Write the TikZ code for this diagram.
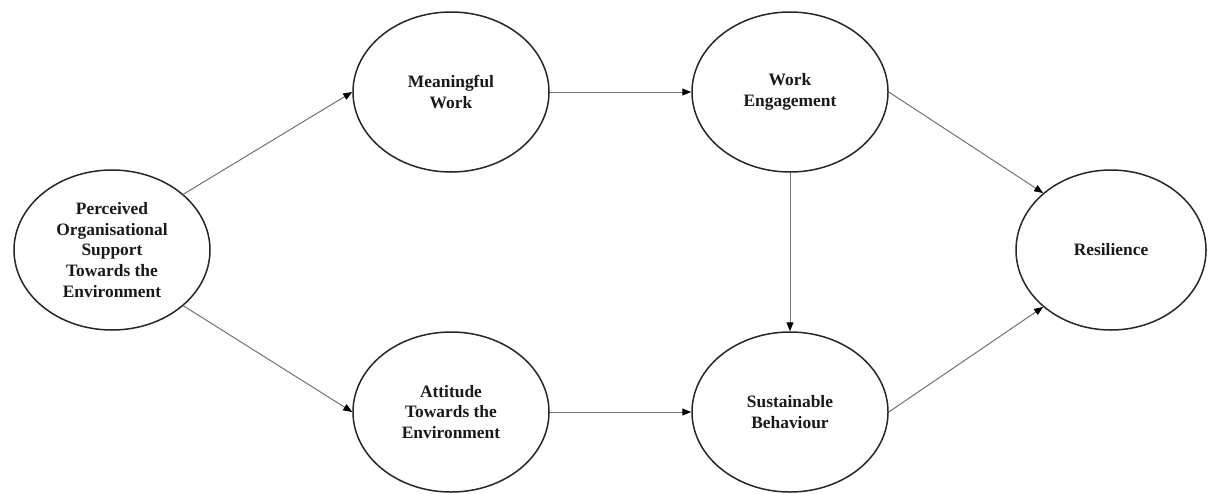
\documentclass[tikz,border=0pt]{standalone}
\usepackage{fontspec}
\setmainfont{Liberation Serif}
\usetikzlibrary{shapes.geometric,arrows.meta}
\begin{document}
\begin{tikzpicture}[x=0.5pt,y=-0.5pt,
  construct/.style={ellipse,draw=black!85,line width=0.75pt,minimum width=98pt,minimum height=80pt,inner sep=0pt,align=center,text=black!90,font=\fontsize{8.7}{10.4}\selectfont\bfseries},
  link/.style={draw=black!55,line width=0.5pt,-{Triangle[length=4.5pt,width=3.5pt,black]}}]
\useasboundingbox (0,0) rectangle (1208,493);
\node[construct] (pos) at (112,250) {Perceived\\Organisational\\Support\\Towards the\\Environment};
\node[construct] (mw) at (451,92) {Meaningful\\Work};
\node[construct] (we) at (790,92) {Work\\Engagement};
\node[construct] (att) at (451,412) {Attitude\\Towards the\\Environment};
\node[construct] (sb) at (790,412) {Sustainable\\Behaviour};
\node[construct,minimum width=95pt] (res) at (1111,250) {Resilience};
\draw[link] (pos.38) -- (mw.west);
\draw[link] (pos.-38) -- (att.west);
\draw[link] (mw.east) -- (we.west);
\draw[link] (att.east) -- (sb.west);
\draw[link] (we.south) -- (sb.north);
\draw[link] (we.east) -- (res.140);
\draw[link] (sb.east) -- (res.220);
\end{tikzpicture}
\end{document}
